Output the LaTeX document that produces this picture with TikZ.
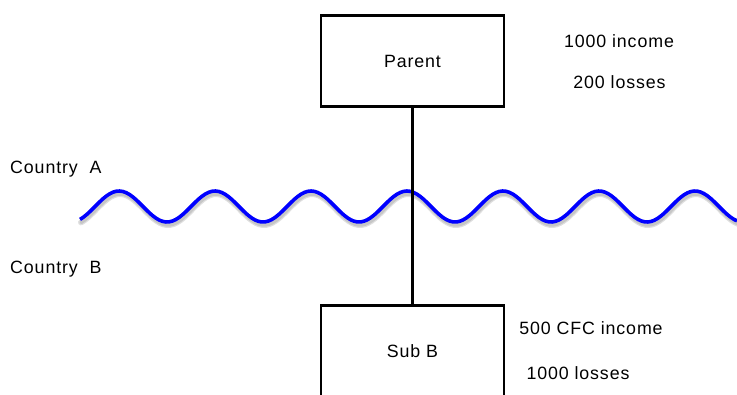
\documentclass[tikz,border=0pt]{standalone}
\usepackage{fontspec}
\setmainfont{Liberation Sans}[LetterSpace=5]
\usepackage{tikz}
\usetikzlibrary{calc,positioning}

\begin{document}
\begin{tikzpicture}[x=1pt,y=-1pt,
  entity/.style={draw,line width=2.4pt,minimum width=183pt,minimum height=91pt,inner sep=0pt},
  note/.style={inner sep=0pt},
  font=\fontsize{17.8}{20}\selectfont]
\clip (0,0) rectangle (737,394);
\useasboundingbox (0,0) rectangle (737,394);
% border between the two countries
\draw[gray!25,line width=6pt,line cap=round] plot[domain=80:737,samples=200,smooth] (\x+1,{209.5-15.5*cos(3.75*(\x-119))});
\draw[gray!45,line width=3.5pt,line cap=round] plot[domain=80:737,samples=200,smooth] (\x+1,{209.5-15.5*cos(3.75*(\x-119))});
\draw[blue,line width=3.6pt] plot[domain=80:737,samples=200,smooth] (\x,{206.5-15.5*cos(3.75*(\x-119))});
\node[note,anchor=west] (cA) at (10,169) {Country\ \ A};
\node[note,anchor=west] (cB) at (10,269) {Country\ \ B};
% companies
\node[entity] (parent) at (412.5,61) {Parent};
\node[entity] (sub) at (412.5,351) {Sub B};
\draw[line width=2.2pt] (parent) -- (sub);
\node[note] (pinc) at (619,41) {1000 income};
\node[note] (ploss) at (619.5,82) {200 losses};
\node[note] (sinc) at (591,328) {500 CFC income};
\node[note] (sloss) at (578,373) {1000 losses};
\end{tikzpicture}
\end{document}
